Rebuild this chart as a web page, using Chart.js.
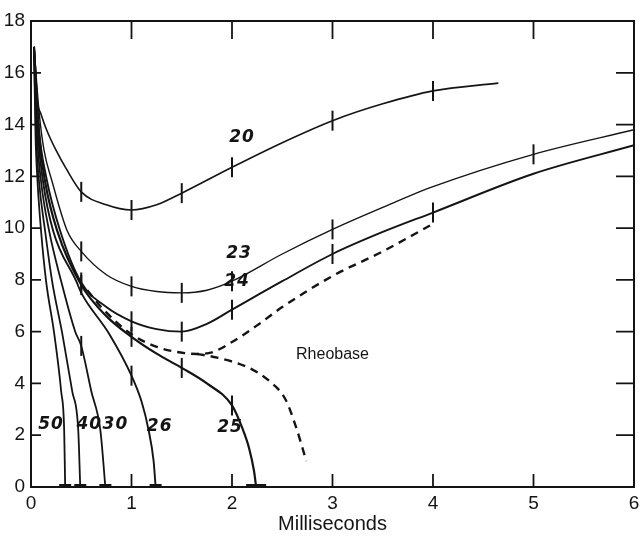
<!DOCTYPE html>
<html lang="en">
<head>
<meta charset="UTF-8">
<title>Milliseconds</title>
<script src="https://cdn.jsdelivr.net/npm/chart.js"></script>
<style>
  html, body { margin: 0; padding: 0; background: #fff; overflow: hidden; }
</style>
</head>
<body>
<canvas id="myChart" width="650" height="536"></canvas>
<script>
// axis ticks
const xTicks = [0, 1, 2, 3, 4, 5, 6];
const yTicks = [0, 2, 4, 6, 8, 10, 12, 14, 16, 18];

// curves (x in milliseconds)
const c20x = [0.03, 0.06, 0.1, 0.16, 0.25, 0.35, 0.5, 0.75, 1, 1.25, 1.5, 2, 2.5, 3, 3.5, 4, 4.65];
const c20y = [17, 15.0, 14.4, 13.75, 13.0, 12.3, 11.4, 10.9, 10.7, 10.9, 11.35, 12.35, 13.3, 14.15, 14.8, 15.3, 15.6];

const c23x = [0.03, 0.08, 0.13, 0.21, 0.36, 0.5, 0.75, 1, 1.25, 1.5, 1.75, 2, 2.5, 3, 3.5, 4, 5, 6];
const c23y = [17, 14.5, 13.0, 11.8, 9.9, 9.1, 8.2, 7.75, 7.55, 7.5, 7.6, 7.95, 9.0, 9.95, 10.8, 11.6, 12.85, 13.8];

const c24x = [0.03, 0.08, 0.15, 0.29, 0.5, 0.75, 1, 1.25, 1.5, 1.75, 2, 2.5, 3, 3.5, 4, 5, 6];
const c24y = [17, 13.8, 12.0, 9.9, 7.9, 6.95, 6.4, 6.1, 6.0, 6.3, 6.85, 7.95, 9.0, 9.85, 10.6, 12.1, 13.2];

const c25x = [0.03, 0.08, 0.14, 0.26, 0.5, 0.75, 1, 1.25, 1.5, 1.75, 2, 2.1, 2.17, 2.22, 2.24];
const c25y = [17, 13.6, 11.8, 9.9, 7.8, 6.6, 5.8, 5.15, 4.6, 4.0, 3.15, 2.3, 1.5, 0.6, 0];

const c26x = [0.03, 0.07, 0.12, 0.22, 0.45, 0.5, 0.78, 1, 1.1, 1.17, 1.22, 1.24];
const c26y = [17, 13.6, 11.8, 9.9, 7.95, 7.5, 5.9, 4.3, 3.3, 2.2, 1.0, 0];

const c30x = [0.03, 0.06, 0.1, 0.18, 0.3, 0.44, 0.5, 0.6, 0.69, 0.74];
const c30y = [17, 13.6, 11.8, 9.9, 7.95, 6.0, 5.45, 3.7, 2.2, 0];

const c40x = [0.03, 0.05, 0.08, 0.14, 0.21, 0.31, 0.41, 0.47, 0.49];
const c40y = [17, 13.6, 11.8, 9.9, 7.95, 5.95, 3.7, 2.2, 0];

const c50x = [0.03, 0.045, 0.065, 0.1, 0.15, 0.23, 0.3, 0.33, 0.34];
const c50y = [17, 13.6, 11.8, 9.9, 7.95, 5.95, 3.7, 2.2, 0];

// rheobase (dashed) splits into two branches
const rheoUpX = [0.56, 0.71, 1.0, 1.26, 1.53, 1.65, 1.8, 2.0, 2.27, 2.5, 3.0, 3.5, 3.97];
const rheoUpY = [7.6, 6.9, 5.9, 5.4, 5.17, 5.14, 5.2, 5.6, 6.3, 6.95, 8.15, 9.1, 10.1];
const rheoLowX = [1.65, 1.85, 2.17, 2.37, 2.53, 2.63, 2.74];
const rheoLowY = [5.14, 5.0, 4.6, 4.1, 3.4, 2.4, 1.0];

// where the little cross marks sit on each curve
const marks20 = [0.5, 1, 1.5, 2, 3, 4];
const marks23 = [0.5, 1, 1.5, 2, 3, 5];
const marks24 = [0.5, 1, 1.5, 2, 3, 4];
const marks25 = [0.5, 1, 1.5, 2];
const marks26 = [1];
const marks30 = [0.5];

const INK = '#141414';

function pts(xs, ys) {
   return xs.map((x, i) => ({ x: x, y: ys[i] }));
}

function curve(label, xs, ys, marks, width, endBar) {
   return {
      label: label,
      data: pts(xs, ys),
      showLine: true,
      borderColor: INK,
      borderWidth: width,
      cubicInterpolationMode: 'monotone',
      pointStyle: 'line',
      pointBorderColor: INK,
      pointRadius: function (ctx) {
         const p = ctx.raw;
         if (!p) return 0;
         if (marks.includes(p.x)) return 10;
         if (p.y === 0) return endBar;
         return 0;
      },
      pointRotation: function (ctx) {
         const p = ctx.raw;
         return p && p.y === 0 ? 0 : 90;
      },
      pointBorderWidth: function (ctx) {
         const p = ctx.raw;
         return p && p.y === 0 ? 6 : 2;
      },
      pointHoverRadius: 0
   };
}

function dashed(xs, ys) {
   return {
      label: 'Rheobase',
      data: pts(xs, ys),
      showLine: true,
      borderColor: INK,
      borderWidth: 2.4,
      borderDash: [8, 6],
      cubicInterpolationMode: 'monotone',
      pointRadius: 0
   };
}

// curve names and where they are written (in chart units)
const labelSpots = [
   { t: '20', x: 2.1, y: 13.5 },
   { t: '23', x: 2.07, y: 9.0 },
   { t: '24', x: 2.05, y: 7.95 },
   { t: '25', x: 1.98, y: 2.3 },
   { t: '26', x: 1.28, y: 2.35 },
   { t: '30', x: 0.84, y: 2.4 },
   { t: '40', x: 0.58, y: 2.4 },
   { t: '50', x: 0.2, y: 2.4 }
];

const framePlugin = {
   id: 'frame',
   afterDatasetsDraw(chart) {
      const ctx = chart.ctx;
      const a = chart.chartArea;
      const xs = chart.scales.x;
      const ys = chart.scales.y;
      ctx.save();
      ctx.strokeStyle = INK;
      ctx.lineWidth = 2;
      ctx.strokeRect(a.left, a.top, a.right - a.left, a.bottom - a.top);

      // tick marks pointing into the plot
      ctx.lineWidth = 1.8;
      ctx.beginPath();
      xTicks.slice(1, -1).forEach(function (v) {
         const px = xs.getPixelForValue(v);
         ctx.moveTo(px, a.bottom); ctx.lineTo(px, a.bottom - 13);
         ctx.moveTo(px, a.top); ctx.lineTo(px, a.top + 18);
      });
      yTicks.slice(1, -1).forEach(function (v) {
         const py = ys.getPixelForValue(v);
         ctx.moveTo(a.left, py); ctx.lineTo(a.left + 10, py);
         ctx.moveTo(a.right, py); ctx.lineTo(a.right - 18, py);
      });
      ctx.stroke();

      // curve labels
      ctx.fillStyle = INK;
      ctx.textAlign = 'center';
      ctx.textBaseline = 'middle';
      ctx.font = 'italic bold 17px "DejaVu Sans"';
      ctx.letterSpacing = '1px';
      labelSpots.forEach(function (s) {
         ctx.fillText(s.t, xs.getPixelForValue(s.x), ys.getPixelForValue(s.y));
      });
      ctx.letterSpacing = '0px';
      ctx.font = '16px "Liberation Sans"';
      ctx.fillText('Rheobase', xs.getPixelForValue(3.0), ys.getPixelForValue(5.1));
      ctx.restore();
   }
};

const config = {
   type: 'scatter',
   data: {
      datasets: [
         curve('20', c20x, c20y, marks20, 1.6, 0),
         curve('23', c23x, c23y, marks23, 1.4, 0),
         curve('24', c24x, c24y, marks24, 1.9, 0),
         curve('25', c25x, c25y, marks25, 2.2, 10),
         curve('26', c26x, c26y, marks26, 1.9, 6),
         curve('30', c30x, c30y, marks30, 1.8, 6),
         curve('40', c40x, c40y, [], 1.8, 6),
         curve('50', c50x, c50y, [], 1.8, 6),
         dashed(rheoUpX, rheoUpY),
         dashed(rheoLowX, rheoLowY)
      ]
   },
   options: {
      responsive: false,
      animation: false,
      devicePixelRatio: 1,
      layout: { padding: { top: 21, right: 12, left: 0, bottom: 0 } },
      plugins: { legend: { display: false }, tooltip: { enabled: false } },
      scales: {
         x: {
            type: 'linear', min: 0, max: 6,
            afterBuildTicks: function (s) { s.ticks = xTicks.map(v => ({ value: v })); },
            afterFit: function (s) { s.height = 49; },
            grid: { display: false, drawTicks: false },
            border: { display: false },
            ticks: { color: INK, padding: 5, maxRotation: 0, font: { family: 'Liberation Sans', size: 19 } },
            title: { display: true, text: 'Milliseconds', color: INK, padding: { top: 0, bottom: 0 },
                     font: { family: 'Liberation Sans', size: 20 } }
         },
         y: {
            type: 'linear', min: 0, max: 18,
            afterBuildTicks: function (s) { s.ticks = yTicks.map(v => ({ value: v })); },
            afterFit: function (s) { s.width = 31; },
            grid: { display: false, drawTicks: false },
            border: { display: false },
            ticks: { color: INK, padding: 6, font: { family: 'Liberation Sans', size: 19 } }
         }
      }
   },
   plugins: [framePlugin]
};

new Chart(document.getElementById('myChart'), config);
</script>
</body>
</html>
